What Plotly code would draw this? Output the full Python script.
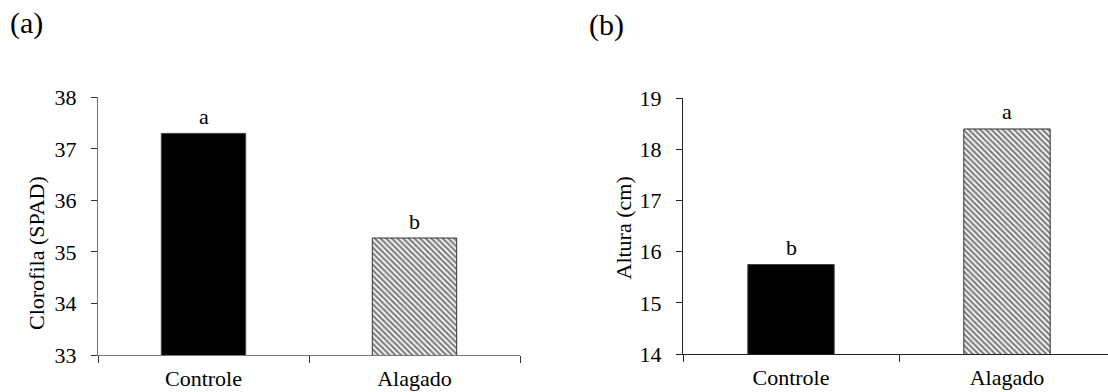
import plotly.graph_objects as go

# Data
categories = ["Controle", "Alagado"]
clorofila = [37.3, 35.27]
altura = [15.75, 18.4]
letras_clorofila = ["a", "b"]
letras_altura = ["b", "a"]

W, H = 1108, 392
FONT = "Liberation Serif, Times New Roman, serif"


def px_x(v):
    return v / W


def px_y(v):
    return (H - v) / H


def bar_marker(idx):
    if idx == 0:
        return dict(color="black", line=dict(color="#444", width=1))
    return dict(color="white", line=dict(color="#333", width=1),
                pattern=dict(shape="\\", size=4, solidity=0.55,
                             fgcolor="#000", bgcolor="white",
                             fillmode="overlay"))


fig = go.Figure()

for i, cat in enumerate(categories):
    fig.add_trace(go.Bar(x=[cat], y=[clorofila[i]], width=0.4,
                         marker=bar_marker(i), xaxis="x", yaxis="y",
                         showlegend=False))
    fig.add_trace(go.Bar(x=[cat], y=[altura[i]], width=0.4,
                         marker=bar_marker(i), xaxis="x2", yaxis="y2",
                         showlegend=False))

common_x = dict(type="category", categoryorder="array", categoryarray=categories,
                showline=True, linewidth=1, ticks="outside", tickson="boundaries",
                ticklen=7, tickwidth=1, showgrid=False, zeroline=False,
                automargin=False,
                tickfont=dict(family=FONT, size=22, color="black"),
                ticklabelstandoff=4)
common_y = dict(showline=True, linewidth=1, ticks="outside", ticklen=6,
                tickwidth=1, showgrid=False, zeroline=False, dtick=1,
                automargin=False,
                tickfont=dict(family=FONT, size=22, color="black"),
                ticklabelstandoff=10)

fig.update_layout(
    width=W, height=H,
    template="none",
    margin=dict(l=0, r=0, t=0, b=0, autoexpand=False),
    paper_bgcolor="white", plot_bgcolor="white",
    barmode="overlay",
    xaxis=dict(domain=[px_x(98), px_x(520)], range=[-0.5, 1.5],
               anchor="y", linecolor="#777", tickcolor="#333", **common_x),
    yaxis=dict(domain=[px_y(355), px_y(97.3)], range=[33, 38],
               anchor="x", linecolor="#777", tickcolor="#333", **common_y),
    xaxis2=dict(domain=[px_x(683), 1.0], range=[-0.5, 1.5 - 7 / 216],
                anchor="y2", linecolor="#222", tickcolor="#222", **common_x),
    yaxis2=dict(domain=[px_y(354), px_y(98.3)], range=[14, 19],
                anchor="x2", linecolor="#222", tickcolor="#222", **common_y),
)

annotations = []
for cat, v, t in zip(categories, clorofila, letras_clorofila):
    annotations.append(dict(x=cat, y=v, xref="x", yref="y", text=t,
                            showarrow=False, yanchor="middle", yshift=17,
                            font=dict(family=FONT, size=22, color="black")))
for cat, v, t in zip(categories, altura, letras_altura):
    annotations.append(dict(x=cat, y=v, xref="x2", yref="y2", text=t,
                            showarrow=False, yanchor="middle", yshift=17,
                            font=dict(family=FONT, size=22, color="black")))

# Panel letters
annotations.append(dict(x=px_x(26), y=px_y(23), xref="paper", yref="paper",
                        text="(a)", showarrow=False,
                        xanchor="center", yanchor="middle",
                        font=dict(family=FONT, size=30, color="black")))
annotations.append(dict(x=px_x(606), y=px_y(25), xref="paper", yref="paper",
                        text="(b)", showarrow=False,
                        xanchor="center", yanchor="middle",
                        font=dict(family=FONT, size=30, color="black")))

# Axis titles
annotations.append(dict(x=px_x(36), y=px_y(253), xref="paper", yref="paper",
                        text="Clorofila (SPAD)", textangle=-90, showarrow=False,
                        xanchor="center", yanchor="middle",
                        font=dict(family=FONT, size=22, color="black")))
annotations.append(dict(x=px_x(623), y=px_y(228.5), xref="paper", yref="paper",
                        text="Altura (cm)", textangle=-90, showarrow=False,
                        xanchor="center", yanchor="middle",
                        font=dict(family=FONT, size=22, color="black")))

fig.update_layout(annotations=annotations)

fig.write_html("out.html")
